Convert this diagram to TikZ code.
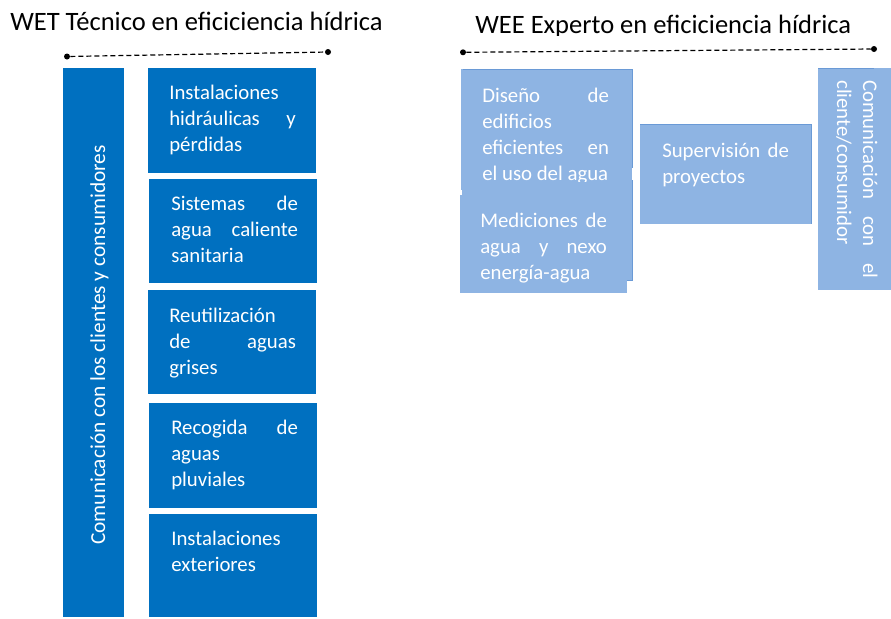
\documentclass[tikz,border=0pt]{standalone}
\usepackage{fontspec}
\setmainfont{Carlito}
\definecolor{azul}{HTML}{0070C0}
\definecolor{azulclaro}{HTML}{8EB4E3}
\definecolor{borde}{HTML}{6A9AD6}
\hyphenpenalty=10000
\exhyphenpenalty=10000

\begin{document}
\begin{tikzpicture}[x=0.75pt,y=-0.75pt,
    caja/.style={fill=azul},
    cajaclara/.style={fill=azulclaro},
    filo/.style={draw=borde,line width=0.7pt},
    texto/.style={anchor=base west,inner sep=0pt,text width=95pt,align=justify,text=white,font=\fontsize{15.6}{19.5}\selectfont},
    titulo/.style={anchor=base west,inner sep=0pt,font=\fontsize{19.9}{24}\selectfont},
    linea/.style={dash pattern=on 3.75pt off 2.25pt,line width=0.9pt},
    punto/.style={circle,fill=black,inner sep=0pt,minimum size=4.5pt}]

    \useasboundingbox (0,0) rectangle (891,618);

    % WET: tecnico
    \node[titulo] (wet) at (10,30.5) {WET Técnico en eficiciencia hídrica};
    \node[punto] (p1) at (67,56.5) {};
    \node[punto] (p2) at (328,52) {};
    \draw[linea] (p1) -- (p2);

    \fill[caja] (63,68) rectangle (124,617);
    \node[rotate=90,anchor=base,inner sep=0pt,text=white,font=\fontsize{16}{19.5}\selectfont] (clientes) at (105,345)
      {Comunicación con los clientes y consumidores};

    \fill[caja] (148,68) rectangle (316,173);
    \node[texto] (hidraulicas) at (169,99) {Instalaciones\linebreak hidráulicas y\linebreak pérdidas};
    \fill[caja] (149,179) rectangle (317,283);
    \node[texto] (acs) at (171,210) {Sistemas de\linebreak agua caliente\linebreak sanitaria};
    \fill[caja] (148,290) rectangle (316,394);
    \node[texto] (grises) at (169,322) {Reutilización\linebreak de aguas\linebreak grises};
    \fill[caja] (149,403) rectangle (317,508);
    \node[texto] (pluviales) at (171,434) {Recogida de\linebreak aguas\linebreak pluviales};
    \fill[caja] (149,514) rectangle (317,617);
    \node[texto] (exteriores) at (171,545) {Instalaciones\linebreak exteriores};

    % WEE: experto (titulo cortado por abajo)
    \begin{scope}
      \clip (440,0) rectangle (891,35.5);
      \node[titulo] (wee) at (475,33) {WEE Experto en eficiciencia hídrica};
    \end{scope}
    \node[punto] (p3) at (463,52.3) {};
    \node[punto] (p4) at (874,49) {};
    \draw[linea] (p3) -- (p4);

    \fill[cajaclara] (461,69) rectangle (632,190);
    \draw[filo] (463,69) -- (632,69) -- (632,168);
    \node[texto] (diseno) at (482,102) {Diseño de\linebreak edificios\linebreak eficientes en\linebreak el uso del agua};
    \fill[cajaclara] (462,182) rectangle (632,280);
    \draw[filo] (632,180) -- (632,280) -- (627,280);
    \fill[cajaclara] (460,195) rectangle (627,293);
    \node[texto] (mediciones) at (480,227) {Mediciones de\linebreak agua y nexo\linebreak energía-agua};

    \fill[cajaclara] (640,124) rectangle (811,224);
    \draw[filo] (640,124) -- (811,124) -- (811,224);
    \node[texto] (supervision) at (662,157) {Supervisión de\linebreak proyectos};

    \fill[cajaclara] (818,68) rectangle (891,290);
    \draw[filo] (818,68) -- (874,68);
    \node[texto,rotate=-90,text width=148.5pt] (cliente) at (863,80) {Comunicación con el\linebreak cliente/consumidor};
\end{tikzpicture}
\end{document}
